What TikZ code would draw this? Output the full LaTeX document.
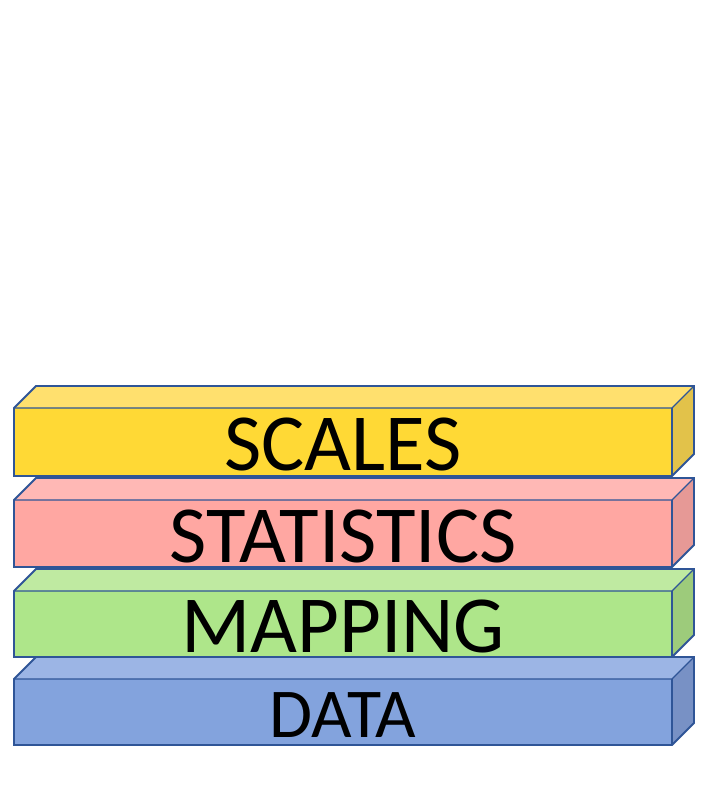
\documentclass[tikz,border=0pt]{standalone}
\usepackage{fontspec}
\setmainfont{Carlito}
\definecolor{edgeblue}{HTML}{2F5597}
\definecolor{yfront}{HTML}{FFD935}
\definecolor{ytop}{HTML}{FFE06E}
\definecolor{yside}{HTML}{E2C24A}
\definecolor{pfront}{HTML}{FFA7A2}
\definecolor{ptop}{HTML}{FFB8B5}
\definecolor{pside}{HTML}{E69996}
\definecolor{gfront}{HTML}{AEE68A}
\definecolor{gtop}{HTML}{BFEAA1}
\definecolor{gside}{HTML}{9DCB7B}
\definecolor{bfront}{HTML}{83A3DD}
\definecolor{btop}{HTML}{9CB5E5}
\definecolor{bside}{HTML}{7891C5}
\tikzset{
  face/.style={draw=edgeblue, line width=1.8pt, line join=miter},
  layerlabel/.style={anchor=base, inner sep=0pt, font=\fontsize{81}{81}\selectfont, text=black},
  smalllabel/.style={layerlabel, font=\fontsize{70}{70}\selectfont}
}
% #1 front top y, #2 front bottom y, #3 front, #4 top, #5 side, #6 node name, #7 text, #8 label style, #9 baseline offset
\newcommand{\stackblock}[9]{%
  \fill[#4] (14,#1) -- (36,#1-22) -- (694,#1-22) -- (672,#1) -- cycle;
  \fill[#5] (672,#1) -- (694,#1-22) -- (694,#2-22) -- (672,#2) -- cycle;
  \fill[#3] (14,#1) rectangle (672,#2);
  \draw[face] (14,#1) -- (36,#1-22) -- (694,#1-22) -- (694,#2-22) -- (672,#2) -- (14,#2) -- cycle;
  \draw[face, line width=1.2pt] (14,#1) -- (672,#1) -- (694,#1-22);
  \draw[face, line width=1.2pt] (672,#1) -- (672,#2);
  \node[#8] (#6) at (343,#2-#9) {#7};
}
\begin{document}
\begin{tikzpicture}[x=1pt,y=-1pt]
\useasboundingbox (0,0) rectangle (704,796);
\stackblock{679}{745}{bfront}{btop}{bside}{data}{DATA}{smalllabel}{8}
\stackblock{591}{657}{gfront}{gtop}{gside}{mapping}{MAPPING}{layerlabel}{5}
\stackblock{500}{567}{pfront}{ptop}{pside}{statistics}{STATISTICS}{layerlabel}{5}
\stackblock{408}{476}{yfront}{ytop}{yside}{scales}{SCALES}{layerlabel}{6}
\end{tikzpicture}
\end{document}
